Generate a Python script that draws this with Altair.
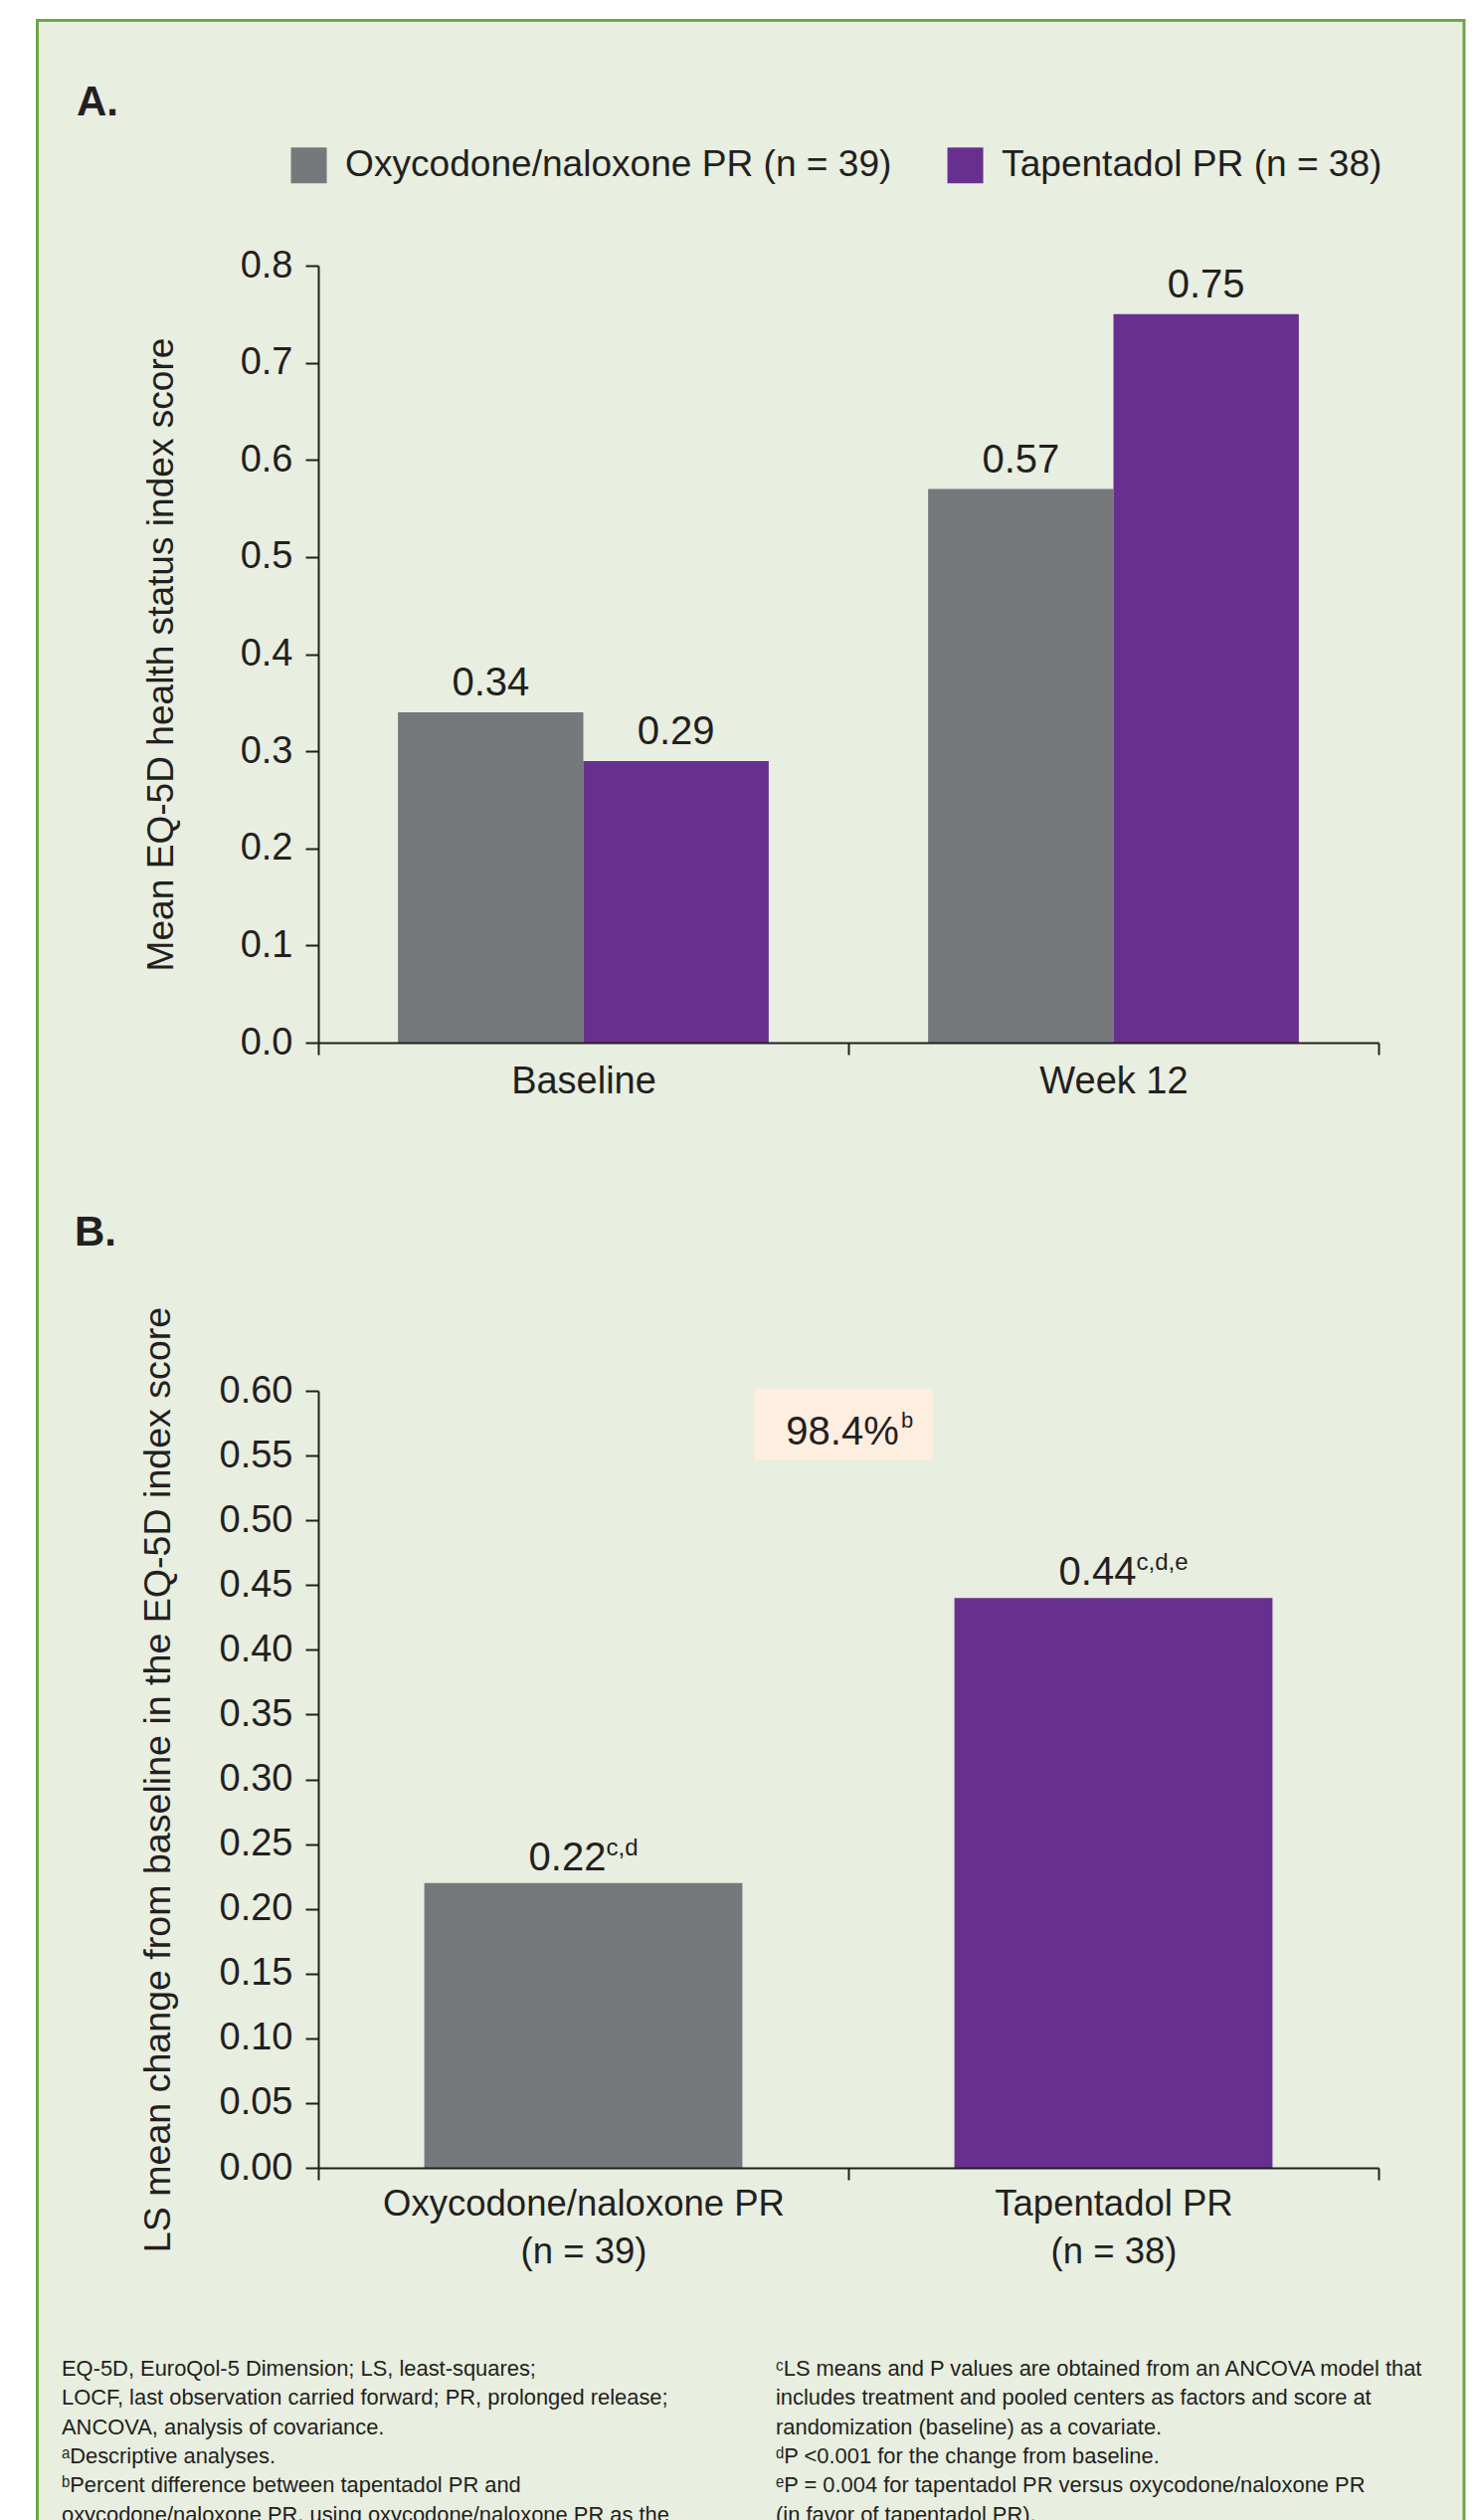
import altair as alt
import pandas as pd

# ---------------- data ----------------
timepoints = ["Baseline", "Week 12"]
treatments = ["Oxycodone/naloxone PR (n = 39)", "Tapentadol PR (n = 38)"]
oxy_index = [0.34, 0.57]
tap_index = [0.29, 0.75]

b_groups = ["Oxycodone/naloxone PR\n(n = 39)", "Tapentadol PR\n(n = 38)"]
b_change = [0.22, 0.44]
b_sups = ["c,d", "c,d,e"]

a_ticks = [0.0, 0.1, 0.2, 0.3, 0.4, 0.5, 0.6, 0.7, 0.8]
b_ticks = [0.0, 0.05, 0.10, 0.15, 0.20, 0.25, 0.30, 0.35, 0.40, 0.45, 0.50, 0.55, 0.60]

pct_diff = "98.4%"
pct_sup = "b"

notes_left = [
    "EQ-5D, EuroQol-5 Dimension; LS, least-squares;",
    "LOCF, last observation carried forward; PR, prolonged release;",
    "ANCOVA, analysis of covariance.",
    "\u1d43Descriptive analyses.",
    "\u1d47Percent difference between tapentadol PR and",
    "oxycodone/naloxone PR, using oxycodone/naloxone PR as the",
]
notes_right = [
    "\u1d9cLS means and P values are obtained from an ANCOVA model that",
    "includes treatment and pooled centers as factors and score at",
    "randomization (baseline) as a covariate.",
    "\u1d48P <0.001 for the change from baseline.",
    "\u1d49P = 0.004 for tapentadol PR versus oxycodone/naloxone PR",
    "(in favor of tapentadol PR).",
]

# ---------------- style ----------------
FONT = "Liberation Sans"
TXT = "#231f20"
GRAY = "#77787b"
PURPLE = "#68308e"
BG = "#e8eee0"
BORDER = "#70a646"
PEACH = "#fdeedf"

W = 1066
H = 781

one = pd.DataFrame({"k": [0]})

# ---------------- panel A ----------------
dfA = pd.DataFrame({
    "time": timepoints + timepoints,
    "treatment": [treatments[0]] * len(timepoints) + [treatments[1]] * len(timepoints),
    "score": oxy_index + tap_index,
})

xA = alt.X("time:N", sort=timepoints, title=None,
           scale=alt.Scale(paddingInner=0, paddingOuter=0),
           axis=alt.Axis(tickBand="extent", labelAngle=0, labelFontSize=38,
                         labelPadding=8, tickSize=12, zindex=1, labelLimit=0))
xoA = alt.XOffset("treatment:N", sort=treatments,
                  scale=alt.Scale(paddingInner=0, paddingOuter=0.43))
yA = alt.Y("score:Q", stack=False,
           scale=alt.Scale(domain=[0, 0.8], nice=False),
           axis=alt.Axis(values=a_ticks, format=".1f",
                         title="Mean EQ-5D health status index score",
                         titleFontSize=37.1, titlePadding=60,
                         labelFontSize=38, tickSize=13, labelPadding=13, zindex=1))
colA = alt.Color("treatment:N", sort=treatments,
                 scale=alt.Scale(domain=treatments, range=[GRAY, PURPLE]),
                 legend=alt.Legend(title=None, orient="none", legendX=-28, legendY=-119.5,
                                   direction="horizontal", symbolType="square",
                                   symbolSize=1296, symbolStrokeWidth=0,
                                   labelFontSize=37.1, labelColor=TXT, labelFont=FONT,
                                   labelOffset=18, columnPadding=55, padding=0,
                                   labelLimit=0))

frameA = alt.Chart(one).mark_rect(fill=BG, stroke=BORDER, strokeWidth=3).encode(
    x=alt.value(-282.5), x2=alt.value(1152), y=alt.value(-246.5), y2=alt.value(2293))

barsA = alt.Chart(dfA).mark_bar().encode(x=xA, xOffset=xoA, y=yA, color=colA)
valsA = alt.Chart(dfA).mark_text(dy=-17, baseline="alphabetic", fontSize=40,
                                 color=TXT, font=FONT).encode(
    x=xA, xOffset=xoA, y=yA, text=alt.Text("score:Q", format=".2f"))
tagA = alt.Chart(one).mark_text(text="A.", align="left", baseline="alphabetic",
                                fontSize=42, fontWeight="bold", color=TXT, font=FONT).encode(
    x=alt.value(-243), y=alt.value(-151))

panelA = alt.layer(frameA, barsA, valsA, tagA).properties(width=W, height=H)

# ---------------- panel B ----------------
dfB = pd.DataFrame({"group": b_groups, "treatment": treatments,
                    "change": b_change, "sup": b_sups})

xB = alt.X("group:N", sort=b_groups, title=None,
           scale=alt.Scale(paddingInner=0, paddingOuter=0),
           axis=alt.Axis(tickBand="extent", labelAngle=0, labelFontSize=36.5,
                         labelExpr="split(datum.label, '\\n')", labelLimit=0,
                         labelLineHeight=48, labelPadding=6, tickSize=12, zindex=1))
yB = alt.Y("change:Q", stack=False,
           scale=alt.Scale(domain=[0, 0.6], nice=False),
           axis=alt.Axis(values=b_ticks, format=".2f",
                         title="LS mean change from baseline in the EQ-5D index score",
                         titleFontSize=37.6, titlePadding=42,
                         labelFontSize=38, tickSize=13, labelPadding=13, zindex=1))
colB = alt.Color("treatment:N", sort=treatments,
                 scale=alt.Scale(domain=treatments, range=[GRAY, PURPLE]), legend=None)

barsB = alt.Chart(dfB).mark_bar(width=alt.RelativeBandSize(0.6)).encode(x=xB, y=yB, color=colB)
valsB = alt.Chart(dfB).mark_text(dx=-16, dy=-13, baseline="alphabetic", align="center",
                                 fontSize=40, color=TXT, font=FONT).encode(
    x=xB, y=yB, text=alt.Text("change:Q", format=".2f"))
supsB = alt.Chart(dfB).mark_text(dx=23, dy=-28, baseline="alphabetic", align="left",
                                 fontSize=24, color=TXT, font=FONT).encode(
    x=xB, y=yB, text="sup:N")

boxB = alt.Chart(one).mark_rect(fill=PEACH).encode(
    x=alt.value(438), x2=alt.value(618), y=alt.value(-2), y2=alt.value(69))
pctB = alt.Chart(one).mark_text(text=pct_diff, align="center", baseline="alphabetic",
                                fontSize=40, color=TXT, font=FONT).encode(
    x=alt.value(527), y=alt.value(54))
pctSupB = alt.Chart(one).mark_text(text=pct_sup, align="left", baseline="alphabetic",
                                   fontSize=22, color=TXT, font=FONT).encode(
    x=alt.value(586), y=alt.value(37))
tagB = alt.Chart(one).mark_text(text="B.", align="left", baseline="alphabetic",
                                fontSize=42, fontWeight="bold", color=TXT, font=FONT).encode(
    x=alt.value(-245), y=alt.value(-146))

notesL = alt.Chart(one).mark_text(text=notes_left, align="left", baseline="alphabetic",
                                  fontSize=21.9, lineHeight=29.3, color=TXT, font=FONT).encode(
    x=alt.value(-258), y=alt.value(990))
notesR = alt.Chart(one).mark_text(text=notes_right, align="left", baseline="alphabetic",
                                  fontSize=21.9, lineHeight=29.3, color=TXT, font=FONT).encode(
    x=alt.value(460), y=alt.value(990))

panelB = alt.layer(boxB, barsB, valsB, supsB, pctB, pctSupB, tagB, notesL, notesR).properties(
    width=W, height=H)

chart = alt.vconcat(
    panelA, panelB, spacing=350, bounds="flush",
    padding={"left": 28, "top": 11, "right": 0, "bottom": 0},
).resolve_scale(color="independent").resolve_legend(color="independent").configure(
    font=FONT, background="white"
).configure_view(strokeWidth=0).configure_axis(
    domainColor=TXT, tickColor=TXT, labelColor=TXT, titleColor=TXT,
    domainWidth=2, tickWidth=2, grid=False, labelFont=FONT, titleFont=FONT,
    titleFontWeight="normal", labelOverlap=False
)

chart.save("out.html", embed_options={"renderer": "svg", "actions": False})
